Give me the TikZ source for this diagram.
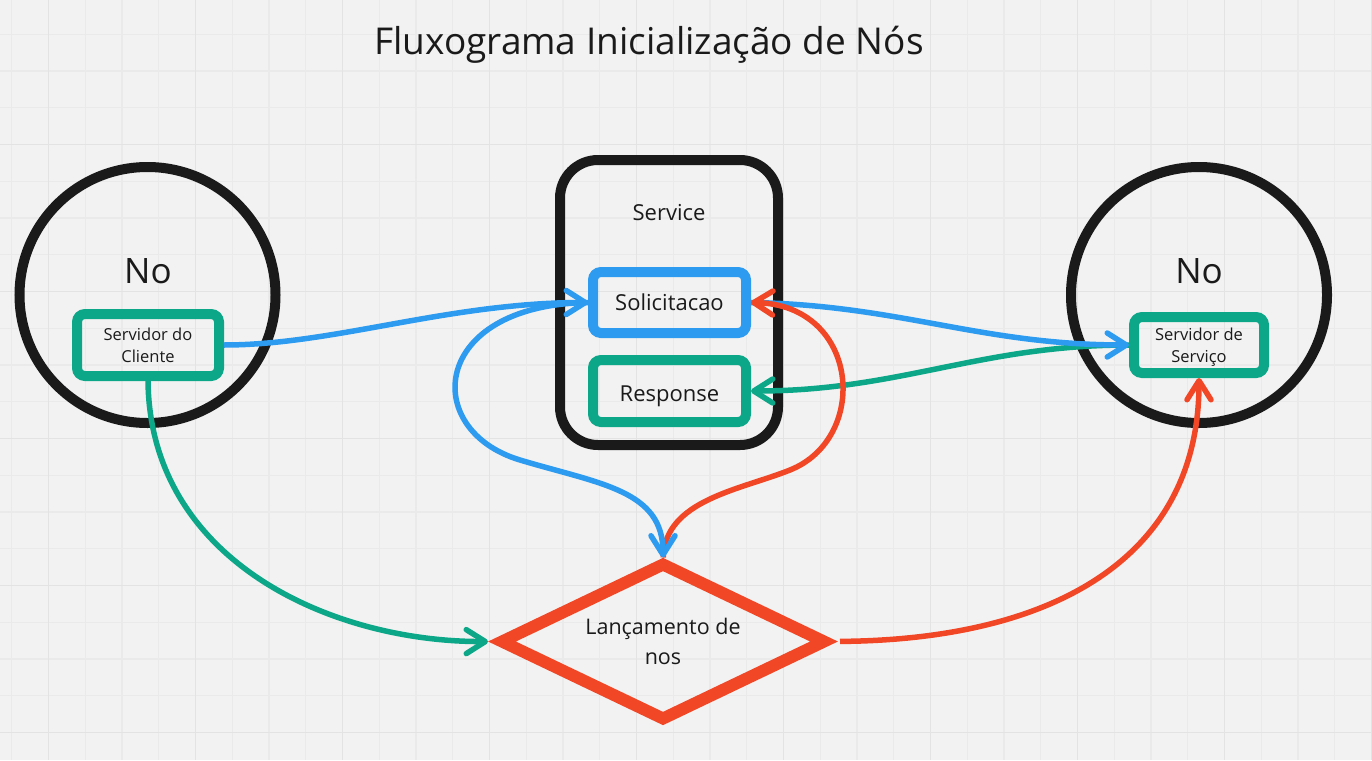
\documentclass[tikz,border=0pt]{standalone}
\usepackage{fontspec}
\setmainfont{Open Sans}
\usetikzlibrary{arrows.meta,shapes.geometric,calc}
\definecolor{ink}{HTML}{1A1A1A}
\definecolor{mgreen}{HTML}{0CA789}
\definecolor{mblue}{HTML}{2D9BF0}
\definecolor{mred}{HTML}{F24726}
\definecolor{bgc}{HTML}{F2F2F2}
\definecolor{gridminor}{HTML}{EAEAEA}
\definecolor{gridmajor}{HTML}{E3E3E3}
\begin{document}
\begin{tikzpicture}[x=1pt,y=-1pt,
  txt/.style={text=ink, inner sep=0pt},
  ring/.style={circle, draw=ink, line width=10pt, minimum size=256pt, inner sep=0pt},
  gbox/.style={draw=mgreen, line width=10pt, rounded corners=8pt, inner sep=0pt, text=ink, align=center},
  bbox/.style={draw=mblue, line width=10pt, rounded corners=8pt, inner sep=0pt, text=ink, align=center},
  conn/.style={line width=5.5pt, -{Straight Barb[length=19pt,width=24pt,round]}},
]
\useasboundingbox (0,0) rectangle (1372,760);
\fill[bgc] (0,0) rectangle (1372,760);
\foreach \i in {0,...,37} \draw[gridminor, line width=1.2pt] ({11.75+36.75*\i},0) -- ({11.75+36.75*\i},760);
\foreach \j in {0,...,21} \draw[gridminor, line width=1.2pt] (0,{-2.45+36.75*\j}) -- (1372,{-2.45+36.75*\j});
\foreach \i in {0,...,9} \draw[gridmajor, line width=1.6pt] ({48.5+147*\i},0) -- ({48.5+147*\i},760);
\foreach \j in {0,...,5} \draw[gridmajor, line width=1.6pt] (0,{-2.5+147*\j}) -- (1372,{-2.5+147*\j});

% title
\node[txt, anchor=base, font=\fontsize{37}{44}\selectfont] (title) at (649,55) {Fluxograma Inicialização de Nós};

% left node
\node[ring] (nl) at (147.5,295) {};
\node[txt, anchor=base, font=\fontsize{35}{42}\selectfont] (nlt) at (148,283) {No};
\node[gbox, minimum width=142pt, minimum height=62pt, font=\fontsize{16.5}{22}\selectfont] (cli) at (148,345) {Servidor do\\Cliente};

% right node
\node[ring] (nr) at (1199,295) {};
\node[txt, anchor=base, font=\fontsize{35}{42}\selectfont] (nrt) at (1199,283) {No};
\node[gbox, minimum width=130pt, minimum height=56pt, font=\fontsize{16.5}{22}\selectfont] (srv) at (1199,345) {Servidor de\\Servi\smash{ç}o};

% service
\node[draw=ink, line width=10pt, rounded corners=38pt, minimum width=218pt, minimum height=285pt, inner sep=0pt] (svc) at (669,302.5) {};
\node[txt, anchor=base, font=\fontsize{22}{26}\selectfont] (svct) at (669,220) {Service};
\node[bbox, minimum width=153pt, minimum height=61pt, font=\fontsize{22}{26}\selectfont] (sol) at (669.5,302.5) {Solicitacao};
\node[gbox, minimum width=153pt, minimum height=62pt, text height=20pt, text depth=0pt, font=\fontsize{22}{26}\selectfont] (resp) at (669.5,391) {Response};

% diamond
\node[diamond, aspect=2.09, draw=mred, line width=12pt, minimum width=322pt, minimum height=154pt, inner sep=0pt, outer sep=0pt, text=ink, align=center, font=\fontsize{21.5}{30}\selectfont] (dia) at (663,641.5) {Lançamento de\\nos};

% connectors
\draw[conn, mgreen] (srv.west) .. controls (980,345) and (900,391) .. (resp.east);
\draw[conn, mblue] (sol.east) .. controls (900,305) and (980,345) .. (srv.west);
\draw[conn, mred, shorten <=7pt] (dia.north) .. controls (665,500) and (740,490) .. (790,470)
   .. controls (870,438) and (860,305) .. (sol.east);
\draw[conn, mblue, shorten >=7pt] (sol.west) .. controls (430,305) and (420,430) .. (520,460)
   .. controls (600,484) and (663,490) .. (dia.north);
\draw[conn, mblue] (cli.east) .. controls (334,345) and (448,302.5) .. (sol.west);
\draw[conn, mgreen, shorten >=14pt] (cli.south) .. controls (150,560) and (330,642) .. (dia.west);
\draw[conn, mred, shorten <=16pt] (dia.east) .. controls (1050,640) and (1199,560) .. (srv.south);
\end{tikzpicture}
\end{document}
